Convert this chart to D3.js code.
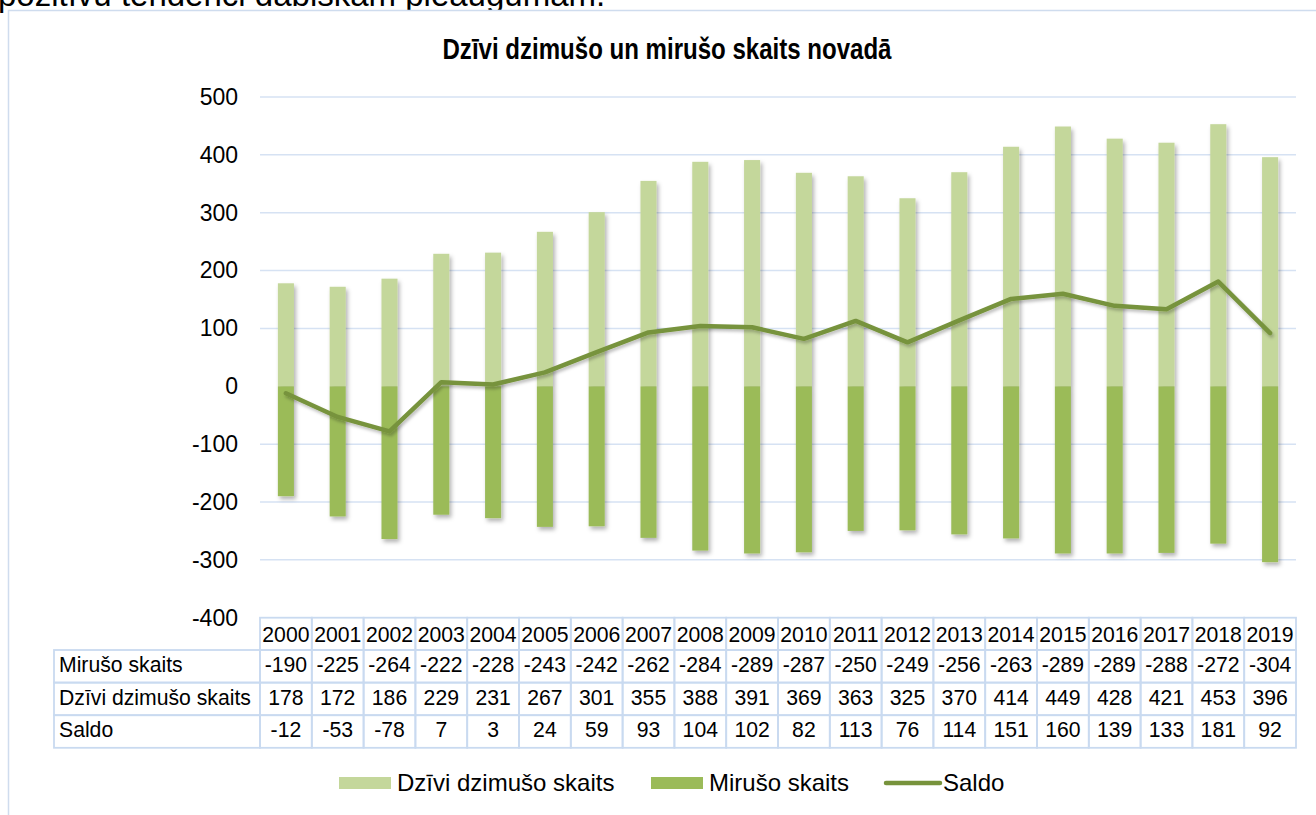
<!DOCTYPE html>
<html><head><meta charset="utf-8">
<script src="https://cdn.jsdelivr.net/npm/d3@7"></script>
<style>
html,body{margin:0;padding:0;background:#fff;overflow:hidden}
svg{display:block}
text{font-family:Arial,"Liberation Sans",sans-serif;fill:#000}
</style></head>
<body>
<svg id="chart" width="1316" height="815"></svg>
<script>
const years = ["2000","2001","2002","2003","2004","2005","2006","2007","2008","2009","2010","2011","2012","2013","2014","2015","2016","2017","2018","2019"];
const deaths = [-190,-225,-264,-222,-228,-243,-242,-262,-284,-289,-287,-250,-249,-256,-263,-289,-289,-288,-272,-304];
const births = [178,172,186,229,231,267,301,355,388,391,369,363,325,370,414,449,428,421,453,396];
const saldo = [-12,-53,-78,7,3,24,59,93,104,102,82,113,76,114,151,160,139,133,181,92];
const yTicks = [500,400,300,200,100,0,-100,-200,-300,-400];
const gridTicks = [500,400,300,200,100,-100,-200,-300];
const seriesNames = {births:"Dzīvi dzimušo skaits", deaths:"Mirušo skaits", saldo:"Saldo"};
const title = "Dzīvi dzimušo un mirušo skaits novadā";
const topText = "pozitīvu tendenci dabiskam pieaugumam.";

const C = {light:"#c4d79b", dark:"#9bbb59", line:"#77933c", grid:"#d6e2f3", border:"#c9daf0"};

const svg = d3.select("#chart");
const defs = svg.append("defs");
const f = defs.append("filter").attr("id","sh").attr("x","-50%").attr("y","-10%").attr("width","200%").attr("height","130%");
f.append("feDropShadow").attr("dx",2).attr("dy",3).attr("stdDeviation",2).attr("flood-color","#000").attr("flood-opacity",0.3);
const f2 = defs.append("filter").attr("id","sh2").attr("x","-10%").attr("y","-20%").attr("width","120%").attr("height","140%");
f2.append("feDropShadow").attr("dx",1.5).attr("dy",2.5).attr("stdDeviation",1.5).attr("flood-color","#000").attr("flood-opacity",0.25);

// clipped text of the document above the chart
svg.append("text").attr("x",-2).attr("y",6).attr("font-size",33).attr("fill","#222").text(topText);

// frame
svg.append("rect").attr("x",8.5).attr("y",10.5).attr("width",1340).attr("height",900)
  .attr("fill","#fff").attr("stroke","#cfdcee").attr("stroke-width",1.5);

const left = 260, right = 1296;
const y = d3.scaleLinear().domain([-400,500]).range([617.7,97]);
const x = d3.scaleBand().domain(years).range([left,right]).paddingInner(0.69).paddingOuter(0.345);
const xc = d3.scaleBand().domain(years).range([left,right]);

// title (narrow bold)
svg.append("g").attr("transform","translate(667,58.5) scale(0.83,1)")
  .append("text").attr("x",0).attr("y",0).attr("text-anchor","middle")
  .attr("font-family","'Liberation Sans Narrow','Arial Narrow',Arial,sans-serif")
  .attr("font-weight","bold").attr("font-size",29).text(title);

// grid
svg.append("g").selectAll("line").data(gridTicks).join("line")
  .attr("x1",left).attr("x2",right).attr("y1",d=>y(d)).attr("y2",d=>y(d))
  .attr("stroke",C.grid).attr("stroke-width",1.5);

// y axis labels
const yAxis = d3.axisLeft(y).tickValues(yTicks).tickSize(0).tickPadding(0).tickFormat(d=>String(d));
const ga = svg.append("g").attr("transform","translate(238,0)").call(yAxis);
ga.select(".domain").remove();
ga.selectAll("text").attr("font-size",23).attr("font-family","Arial,'Liberation Sans',sans-serif").attr("fill","#000");

// bars
const bars = svg.append("g").attr("filter","url(#sh)");
bars.selectAll("rect.b").data(births).join("rect").attr("class","b")
  .attr("x",(d,i)=>x(years[i])).attr("width",x.bandwidth())
  .attr("y",d=>y(d)).attr("height",d=>y(0)-y(d)).attr("fill",C.light);
bars.selectAll("rect.d").data(deaths).join("rect").attr("class","d")
  .attr("x",(d,i)=>x(years[i])).attr("width",x.bandwidth())
  .attr("y",y(0)).attr("height",d=>y(d)-y(0)).attr("fill",C.dark);

// line
const line = d3.line().x((d,i)=>x(years[i])+x.bandwidth()/2).y(d=>y(d));
svg.append("path").datum(saldo).attr("d",line).attr("fill","none")
  .attr("stroke",C.line).attr("stroke-width",4.5).attr("stroke-linejoin","round").attr("stroke-linecap","round")
  .attr("filter","url(#sh2)");

// data table
const rowTop = [617.7,650,682.6,715.2,747.8];
const tg = svg.append("g");
const fs = 21.2;
tg.selectAll("rect.h").data(years).join("rect").attr("class","h")
  .attr("x",d=>xc(d)).attr("width",xc.bandwidth()).attr("y",rowTop[0]).attr("height",rowTop[1]-rowTop[0])
  .attr("fill","none").attr("stroke",C.border).attr("stroke-width",1.8);
tg.selectAll("text.h").data(years).join("text").attr("class","h")
  .attr("x",d=>xc(d)+xc.bandwidth()/2).attr("y",642).attr("text-anchor","middle").attr("font-size",fs).text(d=>d);

const rows = [{name:seriesNames.deaths, vals:deaths},{name:seriesNames.births, vals:births},{name:seriesNames.saldo, vals:saldo}];
rows.forEach((r,ri)=>{
  const t0 = rowTop[ri+1], t1 = rowTop[ri+2];
  tg.append("rect").attr("x",54).attr("width",left-54).attr("y",t0).attr("height",t1-t0)
    .attr("fill","none").attr("stroke",C.border).attr("stroke-width",1.8);
  tg.append("text").attr("x",59).attr("y",t0+22).attr("font-size",fs).text(r.name);
  tg.selectAll("rect.r"+ri).data(years).join("rect").attr("class","r"+ri)
    .attr("x",d=>xc(d)).attr("width",xc.bandwidth()).attr("y",t0).attr("height",t1-t0)
    .attr("fill","none").attr("stroke",C.border).attr("stroke-width",1.8);
  tg.selectAll("text.r"+ri).data(r.vals).join("text").attr("class","r"+ri)
    .attr("x",(d,i)=>xc(years[i])+xc.bandwidth()/2).attr("y",t0+22).attr("text-anchor","middle")
    .attr("font-size",fs).text(d=>d);
});

// legend
const lg = svg.append("g");
lg.append("rect").attr("x",339).attr("y",777).attr("width",52).attr("height",12).attr("fill",C.light);
lg.append("text").attr("x",397).attr("y",791).attr("font-size",24).text(seriesNames.births);
lg.append("rect").attr("x",651).attr("y",777).attr("width",52).attr("height",12).attr("fill",C.dark);
lg.append("text").attr("x",709).attr("y",791).attr("font-size",24).text(seriesNames.deaths);
lg.append("line").attr("x1",886).attr("x2",940).attr("y1",783).attr("y2",783)
  .attr("stroke",C.line).attr("stroke-width",4.5).attr("stroke-linecap","round");
lg.append("text").attr("x",943).attr("y",791).attr("font-size",24).text(seriesNames.saldo);
</script>
</body></html>
